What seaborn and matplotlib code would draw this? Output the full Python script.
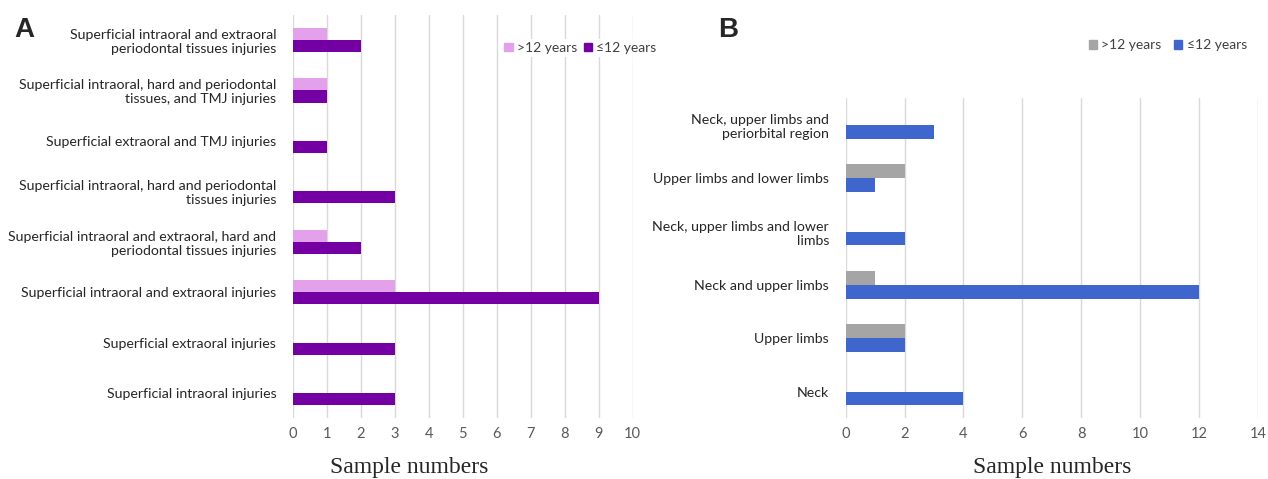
import pandas as pd
import matplotlib.pyplot as plt
import matplotlib.patches as mpatches
import seaborn as sns

# Panel A: oral/maxillofacial injury types
cats_a = [
    "Superficial intraoral and extraoral\nperiodontal tissues injuries",
    "Superficial intraoral, hard and periodontal\ntissues, and TMJ injuries",
    "Superficial extraoral and TMJ injuries",
    "Superficial intraoral, hard and periodontal\ntissues injuries",
    "Superficial intraoral and extraoral, hard and\nperiodontal tissues injuries",
    "Superficial intraoral and extraoral injuries",
    "Superficial extraoral injuries",
    "Superficial intraoral injuries",
]
older_a = [1, 1, 0, 0, 1, 3, 0, 0]
young_a = [2, 1, 1, 3, 2, 9, 3, 3]

# Panel B: body regions
cats_b = [
    "Neck, upper limbs and\nperiorbital region",
    "Upper limbs and lower limbs",
    "Neck, upper limbs and lower\nlimbs",
    "Neck and upper limbs",
    "Upper limbs",
    "Neck",
]
older_b = [0, 2, 0, 1, 2, 0]
young_b = [3, 1, 2, 12, 2, 4]

ages = [">12 years", "\u226412 years"]
colors_a = ["#E3A1EC", "#7400A3"]
colors_b = ["#A5A5A5", "#3F66CC"]

FONT = "Lato"


def make_df(cats, older, young):
    return pd.DataFrame({
        "category": cats * 2,
        "value": older + young,
        "age": [ages[0]] * len(cats) + [ages[1]] * len(cats),
    })


def draw_panel(ax, df, cats, colors, xmax, xstep, width):
    sns.barplot(data=df, y="category", x="value", hue="age", order=cats,
                hue_order=ages, palette=colors, orient="h", width=width,
                ax=ax, legend=False, saturation=1, edgecolor="none")
    ax.set_xlim(0, xmax)
    ax.set_xticks(range(0, xmax + 1, xstep))
    ax.grid(axis="x", color="#D9D9D9", linewidth=1)
    ax.set_axisbelow(True)
    for s in ax.spines.values():
        s.set_visible(False)
    ax.tick_params(axis="both", length=0)
    ax.tick_params(axis="x", labelcolor="#595959", labelsize=10.5, pad=6)
    ax.tick_params(axis="y", labelcolor="#262626", labelsize=10.2, pad=12)
    for t in ax.get_xticklabels() + ax.get_yticklabels():
        t.set_fontfamily(FONT)
    for t in ax.get_yticklabels():
        t.set_horizontalalignment("right")
        t.set_multialignment("right")
    ax.set_ylabel("")
    ax.set_xlabel("")


def add_legend(ax, colors, x, y, spacing):
    handles = [mpatches.Patch(color=c, label=l) for c, l in zip(colors, ages)]
    leg = ax.legend(handles=handles, loc="center left", bbox_to_anchor=(x, y),
                    bbox_transform=ax.figure.transFigure, ncol=2,
                    frameon=True, facecolor="white", edgecolor="none", framealpha=1,
                    handlelength=0.6, handleheight=0.6, handletextpad=0.3,
                    columnspacing=spacing, borderpad=0.2,
                    prop={"family": FONT, "size": 10})
    for t in leg.get_texts():
        t.set_color("#404040")


sns.set_style("white")
fig = plt.figure(figsize=(12.68, 4.79), dpi=100)
ax_a = fig.add_axes([0.231, 0.127, 0.268, 0.842])
ax_b = fig.add_axes([0.667, 0.127, 0.325, 0.668])

draw_panel(ax_a, make_df(cats_a, older_a, young_a), cats_a, colors_a, 10, 1, 0.48)
draw_panel(ax_b, make_df(cats_b, older_b, young_b), cats_b, colors_b, 14, 2, 0.52)

add_legend(ax_a, colors_a, 0.390, 0.9, 0.5)
add_legend(ax_b, colors_b, 0.851, 0.906, 0.9)

fig.text(409 / 1268, 1 - 467 / 479, "Sample numbers", fontfamily="Liberation Serif",
         fontsize=17, ha="center", va="center")
fig.text(1052 / 1268, 1 - 467 / 479, "Sample numbers", fontfamily="Liberation Serif",
         fontsize=17, ha="center", va="center")

fig.text(0.011, 0.922, "A", fontsize=20, fontweight="bold", fontfamily="Liberation Sans")
fig.text(0.566, 0.922, "B", fontsize=20, fontweight="bold", fontfamily="Liberation Sans")

fig.savefig("out.png", dpi=100)
